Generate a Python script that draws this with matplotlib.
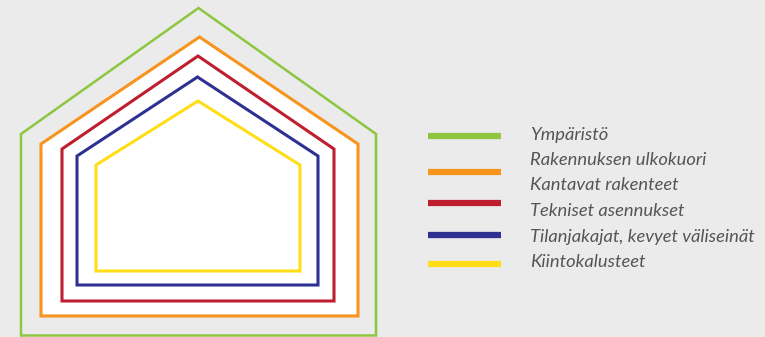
import matplotlib.pyplot as plt
from matplotlib.patches import Polygon

# House layers (outer to inner), pixel units of the picture
layer_colors = ["#8dc63f", "#f7941d", "#be1e2d", "#2e3192", "#ffde17"]
left = [21, 41, 62, 77, 96]
right = [376, 358, 334, 318, 300]
eave = [134, 144, 149, 156, 165]
apex = [8, 37, 56, 77, 101]
bottom = [335.5, 316, 301, 285, 271]

labels = ["Ympäristö", "Rakennuksen ulkokuori", "Kantavat rakenteet",
          "Tekniset asennukset", "Tilanjakajat, kevyet väliseinät", "Kiintokalusteet"]
label_y = [135, 160, 185, 211, 237, 262]
bar_y = [136, 172, 203, 235, 264]

bg = "#ebebeb"
fig = plt.figure(figsize=(7.65, 3.37), dpi=100, facecolor=bg)
ax = fig.add_axes([0, 0, 1, 1])
ax.set_facecolor(bg)
ax.set_xlim(0, 765)
ax.set_ylim(337, 0)
ax.axis("off")

for i, c in enumerate(layer_colors):
    mid = (left[i] + right[i]) / 2
    pts = [(left[i], bottom[i]), (left[i], eave[i]), (mid, apex[i]),
           (right[i], eave[i]), (right[i], bottom[i])]
    face = "white" if i == 1 else "none"
    lw = 1.8 if i == 0 else 2.2
    ax.add_patch(Polygon(pts, closed=True, facecolor=face, edgecolor=c,
                         lw=lw, joinstyle="miter", zorder=i + 1))

# legend
for y, c in zip(bar_y, layer_colors):
    ax.plot([428, 501], [y, y], color=c, lw=4.5, solid_capstyle="butt")
for y, t in zip(label_y, labels):
    ax.text(530, y, t, fontsize=13.2, family="Lato", fontweight="normal",
            style="italic", color="#555555", va="center", ha="left")

fig.savefig("out.png", dpi=100, facecolor=bg)
